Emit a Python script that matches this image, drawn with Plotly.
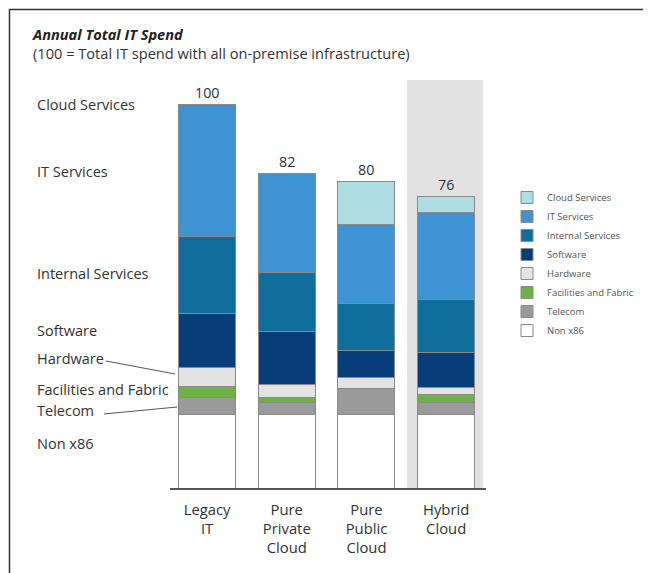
import plotly.graph_objects as go

categories = ["Legacy<br>IT", "Pure<br>Private<br>Cloud", "Pure<br>Public<br>Cloud", "Hybrid<br>Cloud"]

# stacked from bottom to top
series_names = ["Non x86", "Telecom", "Facilities and Fabric", "Hardware",
                "Software", "Internal Services", "IT Services", "Cloud Services"]
non_x86 = [19.3, 19.3, 19.3, 19.1]
telecom = [4.4, 3.1, 6.6, 3.2]
facilities = [2.8, 1.3, 0.0, 2.0]
hardware = [4.9, 3.4, 2.9, 1.9]
software = [14.1, 13.7, 7.2, 9.1]
internal_services = [20.2, 15.5, 12.2, 14.0]
it_services = [34.3, 25.7, 20.7, 22.5]
cloud_services = [0.0, 0.0, 11.1, 4.2]
totals = [100, 82, 80, 76]

series_values = [non_x86, telecom, facilities, hardware, software,
                 internal_services, it_services, cloud_services]
colors = ["#ffffff", "#9a9a9a", "#6ab344", "#e3e3e3", "#073d78",
          "#0f6e9c", "#3d93d3", "#aedde3"]

FONT = "Open Sans"
W, H = 651, 573
OFF = 8  # page body margin

def px(x):
    return (x - OFF) / W

def py(y):
    return 1 - (y - OFF) / H

YMAX = 106.5

fig = go.Figure()
for name, vals, col in zip(series_names, series_values, colors):
    fig.add_trace(go.Bar(
        x=categories, y=vals, name=name, width=0.716,
        marker=dict(color=col, line=dict(color="#8a8a8a", width=1)),
        hoverinfo="skip",
    ))

shapes = [
    # shaded highlight behind Hybrid Cloud
    dict(type="rect", xref="x", yref="paper", x0=2.51, x1=3.46, y0=py(488), y1=py(80),
         fillcolor="#e2e2e2", line=dict(width=0), layer="below"),
    # frame lines
    dict(type="line", xref="paper", yref="paper", x0=px(9.5), x1=px(9.5), y0=py(9), y1=py(590),
         line=dict(color="#333333", width=1.5)),
    dict(type="line", xref="paper", yref="paper", x0=px(9), x1=px(660), y0=py(9.5), y1=py(9.5),
         line=dict(color="#333333", width=1.5)),
    # leader lines
    dict(type="line", xref="paper", yref="paper", x0=px(106), x1=px(175), y0=py(361), y1=py(374),
         line=dict(color="#555555", width=1)),
    dict(type="line", xref="paper", yref="paper", x0=px(104), x1=px(177), y0=py(414), y1=py(407),
         line=dict(color="#555555", width=1)),
]

annotations = []
for c, t in zip(categories, totals):
    annotations.append(dict(x=c, y=t, xref="x", yref="y", text=str(t), showarrow=False,
                            yanchor="bottom", yshift=1, font=dict(size=14.3, color="#333333", family=FONT)))

left_labels = ["Cloud Services", "IT Services", "Internal Services", "Software",
               "Hardware", "Facilities and Fabric", "Telecom", "Non x86"]
left_label_px = [105, 172, 273, 331, 358, 389, 411, 443]
for lab, yy in zip(left_labels, left_label_px):
    annotations.append(dict(x=px(35), y=py(yy), xref="paper", yref="paper", text=lab,
                            showarrow=False, xanchor="left", yanchor="middle",
                            font=dict(size=14.5, color="#333333", family=FONT)))

title_text = ("<span style='font-size:14.6px;color:#222222'><b><i>Annual Total IT Spend</i></b></span><br>"
              "(100 = Total IT spend with all on-premise infrastructure)")
annotations.append(dict(x=px(30), y=py(22), xref="paper", yref="paper",
                        text=title_text, showarrow=False, align="left",
                        xanchor="left", yanchor="top",
                        font=dict(size=14.6, color="#333333", family=FONT)))

fig.update_layout(
    width=W, height=H,
    margin=dict(l=0, r=0, t=0, b=0),
    barmode="stack",
    plot_bgcolor="rgba(0,0,0,0)", paper_bgcolor="white",
    font=dict(family=FONT, color="#333333"),
    shapes=shapes, annotations=annotations,
    showlegend=True,
    legend=dict(x=px(507), y=py(183), xanchor="left", yanchor="top",
                traceorder="reversed", font=dict(size=9.5, color="#555555", family=FONT),
                bgcolor="rgba(0,0,0,0)", itemclick=False),
    xaxis=dict(domain=[px(170), px(486)], range=[-0.465, 3.5], showgrid=False, showline=True,
               linecolor="#555555", linewidth=1.5, ticks="", ticklabelstandoff=7,
               tickfont=dict(size=14.8, color="#333333", family=FONT), fixedrange=True),
    yaxis=dict(domain=[py(488), py(80)], range=[0, YMAX], visible=False, fixedrange=True),
)

fig.write_html("out.html")
